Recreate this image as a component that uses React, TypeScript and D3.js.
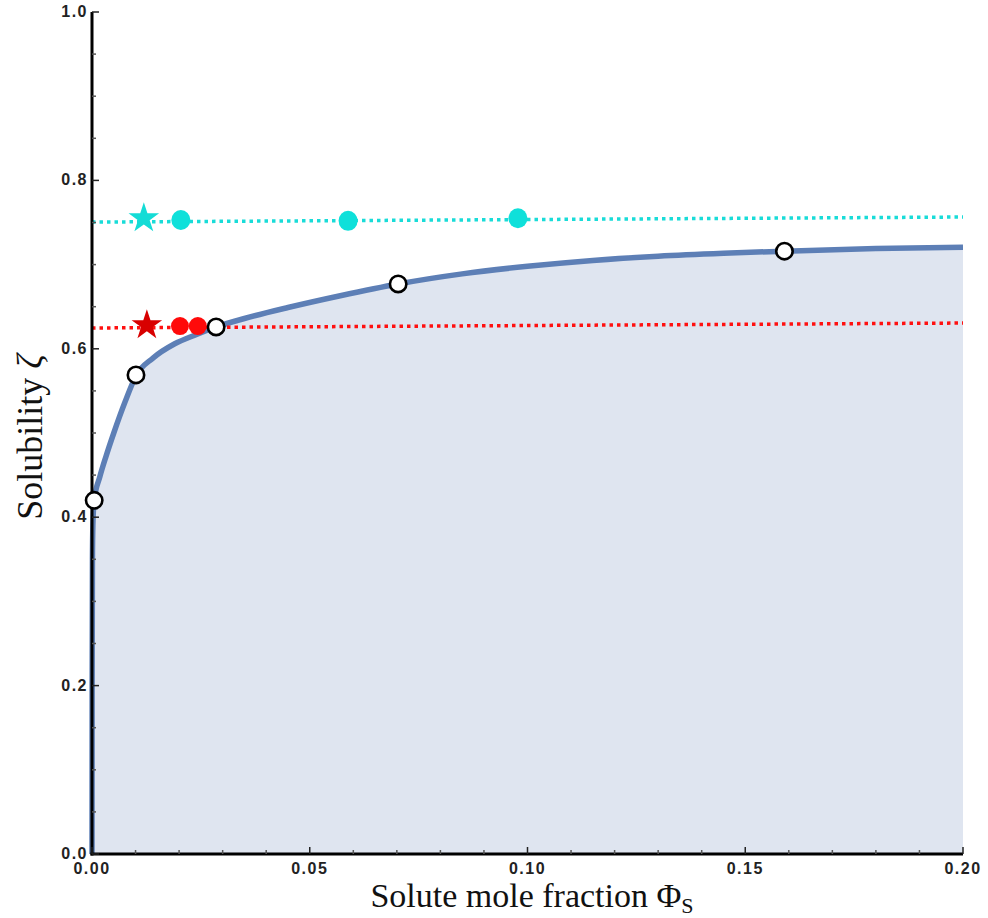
import React, { useEffect, useRef } from "react";
import * as d3 from "d3";

// solubility boundary (phi, zeta)
const curvePhi = [0, 0.00003, 0.0001, 0.0002, 0.0005, 0.0018, 0.0032, 0.005, 0.0076, 0.0101, 0.014, 0.019, 0.024, 0.0285, 0.035, 0.045, 0.057, 0.0703, 0.085, 0.1, 0.115, 0.13, 0.145, 0.159, 0.18, 0.2];
const curveZeta = [0, 0.2, 0.35, 0.39, 0.42, 0.448, 0.472, 0.5, 0.537, 0.568, 0.589, 0.606, 0.617, 0.626, 0.636, 0.649, 0.663, 0.677, 0.689, 0.698, 0.705, 0.71, 0.7135, 0.716, 0.719, 0.7205];

// open circles on the boundary
const openPhi = [0.0005, 0.0101, 0.0285, 0.0703, 0.159];
const openZeta = [0.42, 0.569, 0.626, 0.677, 0.716];

// cyan series
const cyanLine = [0.7505, 0.7565];
const cyanStar = [0.0119, 0.755];
const cyanPhi = [0.0204, 0.0588, 0.0978];
const cyanZeta = [0.753, 0.752, 0.755];

// red series
const redLine = [0.6247, 0.6306];
const redStar = [0.0126, 0.628];
const redPhi = [0.0202, 0.0243];
const redZeta = [0.627, 0.627];

const xTicks = [0, 0.05, 0.1, 0.15, 0.2];
const yTicks = [0, 0.2, 0.4, 0.6, 0.8, 1.0];

const App = () => {
  const svgRef = useRef<SVGSVGElement>(null);

  useEffect(() => {
    const svg = d3.select(svgRef.current);
    svg.selectAll("*").remove();

    const x = d3.scaleLinear().domain([0, 0.2]).range([92, 963]);
    const y = d3.scaleLinear().domain([0, 1]).range([854, 12]);

    const pts: [number, number][] = curvePhi.map((p, i) => [p, curveZeta[i]]);

    const area = d3.area<[number, number]>()
      .x(d => x(d[0]))
      .y0(y(0))
      .y1(d => y(d[1]))
      .curve(d3.curveMonotoneX);

    svg.append("path")
      .datum(pts)
      .attr("d", area)
      .attr("fill", "#dfe5f0");

    const line = d3.line<[number, number]>()
      .x(d => x(d[0]))
      .y(d => y(d[1]))
      .curve(d3.curveMonotoneX);

    svg.append("path")
      .datum(pts)
      .attr("d", line)
      .attr("fill", "none")
      .attr("stroke", "#5d7fb6")
      .attr("stroke-width", 5.5);

    // dotted levels
    const dotted = (vals: number[], color: string) => {
      svg.append("line")
        .attr("x1", x(0)).attr("y1", y(vals[0]))
        .attr("x2", x(0.2)).attr("y2", y(vals[1]))
        .attr("stroke", color)
        .attr("stroke-width", 3.5)
        .attr("stroke-dasharray", "3.5 4");
    };
    dotted(cyanLine, "#19dcd8");
    dotted(redLine, "#ff1010");

    // axes
    const axisG = svg.append("g");
    axisG.append("line")
      .attr("x1", x(0)).attr("y1", y(1)).attr("x2", x(0)).attr("y2", y(0) + 1.5)
      .attr("stroke", "#000").attr("stroke-width", 3);
    axisG.append("line")
      .attr("x1", x(0) - 1.5).attr("y1", y(0)).attr("x2", x(0.2)).attr("y2", y(0))
      .attr("stroke", "#000").attr("stroke-width", 3);

    const xMinor = d3.range(0, 21).map(i => i / 100);
    axisG.selectAll(".xt")
      .data(xMinor)
      .enter().append("line")
      .attr("x1", d => x(d)).attr("x2", d => x(d))
      .attr("y1", y(0))
      .attr("y2", (d, i) => y(0) - (i % 5 === 0 ? 7 : 4))
      .attr("stroke", (d, i) => (i % 5 === 0 ? "#222" : "#555"))
      .attr("stroke-width", 1.5);

    const yMinor = d3.range(0, 21).map(i => i / 20);
    axisG.selectAll(".yt")
      .data(yMinor)
      .enter().append("line")
      .attr("y1", d => y(d)).attr("y2", d => y(d))
      .attr("x1", x(0))
      .attr("x2", (d, i) => x(0) + (i % 4 === 0 ? 7 : 4))
      .attr("stroke", (d, i) => (i % 4 === 0 ? "#222" : "#555"))
      .attr("stroke-width", 1.5);

    const tickFont = "'Liberation Sans', Arial, sans-serif";
    axisG.selectAll(".xl")
      .data(xTicks)
      .enter().append("text")
      .attr("x", d => x(d))
      .attr("y", 874)
      .attr("text-anchor", "middle")
      .attr("font-family", tickFont)
      .attr("font-weight", "bold")
      .attr("font-size", 16)
      .attr("letter-spacing", 1.5)
      .attr("fill", "#222")
      .text(d => d3.format(".2f")(d));

    axisG.selectAll(".yl")
      .data(yTicks)
      .enter().append("text")
      .attr("x", 88)
      .attr("y", d => y(d) + 5)
      .attr("text-anchor", "end")
      .attr("font-family", tickFont)
      .attr("font-weight", "bold")
      .attr("font-size", 16)
      .attr("letter-spacing", 1.5)
      .attr("fill", "#222")
      .text(d => d3.format(".1f")(d));

    // titles
    const serif = "'Liberation Serif', 'Times New Roman', serif";
    const xt = svg.append("text")
      .attr("x", 532)
      .attr("y", 907)
      .attr("text-anchor", "middle")
      .attr("font-family", serif)
      .attr("font-size", 34)
      .attr("fill", "#111");
    xt.append("tspan").text("Solute mole fraction Φ");
    xt.append("tspan").attr("font-size", 22).attr("dy", 6).text("S");

    const yt = svg.append("text")
      .attr("transform", "translate(42,437) rotate(-90)")
      .attr("text-anchor", "middle")
      .attr("font-family", serif)
      .attr("font-size", 36)
      .attr("fill", "#111");
    yt.append("tspan").text("Solubility ");
    yt.append("tspan").attr("font-style", "italic").text("ζ");

    // markers
    const star = d3.symbol().type(d3.symbolStar).size(290);
    svg.append("path")
      .attr("d", star())
      .attr("transform", `translate(${x(cyanStar[0])},${y(cyanStar[1])})`)
      .attr("fill", "#14dcd6");
    svg.append("path")
      .attr("d", star())
      .attr("transform", `translate(${x(redStar[0])},${y(redStar[1])})`)
      .attr("fill", "#d80000");

    svg.selectAll(".cy")
      .data(cyanPhi)
      .enter().append("ellipse")
      .attr("cx", d => x(d))
      .attr("cy", (d, i) => y(cyanZeta[i]))
      .attr("rx", 9.5).attr("ry", 10)
      .attr("fill", "#0fe0da");

    svg.selectAll(".rd")
      .data(redPhi)
      .enter().append("ellipse")
      .attr("cx", d => x(d))
      .attr("cy", (d, i) => y(redZeta[i]))
      .attr("rx", 9).attr("ry", 9)
      .attr("fill", "#ff0a0a");

    svg.selectAll(".op")
      .data(openPhi)
      .enter().append("circle")
      .attr("cx", d => x(d))
      .attr("cy", (d, i) => y(openZeta[i]))
      .attr("r", 8.2)
      .attr("fill", "#fff")
      .attr("stroke", "#000")
      .attr("stroke-width", 2.6);
  }, []);

  return (
    <svg
      ref={svgRef}
      width={988}
      height={918}
      style={{ position: "absolute", left: 0, top: 0, background: "#fff" }}
    />
  );
};

export default App;
